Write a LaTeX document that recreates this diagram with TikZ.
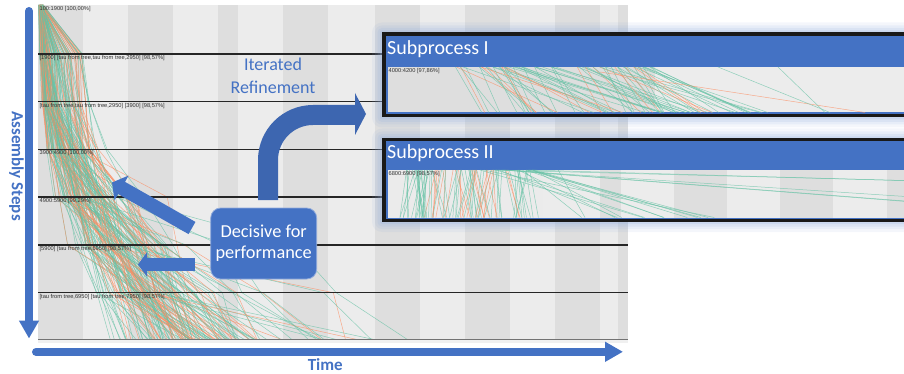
\documentclass[tikz,border=0pt]{standalone}
\usepackage{fontspec}
\setmainfont{Carlito}
\newfontfamily\labfont{Liberation Sans}
\usetikzlibrary{arrows.meta}
\definecolor{ofblue}{HTML}{4472C4}
\definecolor{arrblue}{HTML}{3D66B0}
\definecolor{tealc}{HTML}{66C2A5}
\definecolor{orngc}{HTML}{FC8D62}
\definecolor{bandd}{HTML}{DEDEDE}
\definecolor{bandl}{HTML}{ECECEC}
\definecolor{glowc}{HTML}{8FAADC}
\newcommand\myrand[1]{\pgfmathsetmacro#1{rnd}}
\tikzset{
 rowlab/.style={anchor=north west, inner sep=0.4pt, text=black!80, font=\labfont\fontsize{5.7}{5.7}\selectfont},
 trace/.style={line width=0.5pt, opacity=0.7},
 gridline/.style={draw=black!85, line width=1.1pt},
 subtitle/.style={anchor=base west, inner sep=0pt, text=white, font=\fontsize{20}{24}\selectfont},
 decbox/.style={fill=ofblue, draw=ofblue!60!white, line width=0.8pt, rounded corners=10pt, minimum width=106pt, minimum height=71pt, align=center, text=white, font=\fontsize{18.3}{21}\selectfont, inner sep=0pt},
 blockarrow/.style={draw=ofblue, line width=14pt, -{Triangle[width=28pt,length=11pt]}},
 hblockarrow/.style={draw=ofblue, line width=12.5pt, -{Triangle[width=24pt,length=9pt]}},
 axisarrow/.style={draw=ofblue, line width=8pt, line cap=round, -{Triangle[width=19pt,length=18pt]}},
 axislabel/.style={text=ofblue, font=\bfseries\fontsize{17}{20}\selectfont, inner sep=0pt},
 bluetext/.style={text=ofblue, align=center, font=\fontsize{18}{22.6}\selectfont, inner sep=0pt},
}
\begin{document}
\begin{tikzpicture}[x=1pt, y=-1pt]
\useasboundingbox (0,0) rectangle (904,374);
% chart background
\fill[bandl] (38,5) rectangle (628,340);
\foreach \a/\b in {38/83,128/173,218/238,283/328,375/420,465/510,555/600,618/628}
  \fill[bandd] (\a,5) rectangle (\b,340);
\fill[black!6] (38,340) rectangle (628,343);
% traces
\begin{scope}
\clip (38,5) rectangle (628,339);
\pgfmathsetseed{4711}
\foreach \i in {1,...,150}{
  \myrand\ra\myrand\rb\myrand\rc\myrand\rd\myrand\re\myrand\rf\myrand\rg\myrand\rh
  \myrand\za\myrand\zb\myrand\zc\myrand\zd\myrand\wa\myrand\wb\myrand\wc\myrand\rcol
  \pgfmathsetmacro\xa{38.5+5*\ra}
  \pgfmathsetmacro\xb{\xa+1+40*\rb^3}
  \pgfmathsetmacro\xc{\xb+1+12*\rc^2}
  \pgfmathsetmacro\xd{\xc+3+26*\rd^2}
  \pgfmathsetmacro\xe{\xd+6+42*\re^2+(\za>0.975)*80}
  \pgfmathsetmacro\xf{\xe+8+55*\rf^2+(\zb>0.965)*150*\wa}
  \pgfmathsetmacro\xg{\xf+10+70*\rg^2+(\zc>0.95)*250*\wb}
  \pgfmathsetmacro\xh{\xg+12+80*\rh^2+(\zd>0.94)*250*\wc}
  \pgfmathsetmacro\cc{\rcol<0.35}
  \ifdim\cc pt>0.5pt \def\col{orngc}\else\def\col{tealc}\fi
  \draw[trace, color=\col] (\xa,5) -- (\xb,54) -- (\xc,101.7) -- (\xd,149.3) -- (\xe,197) -- (\xf,245) -- (\xg,292.7) -- (\xh,340);
}
\end{scope}
% grid lines
\foreach \y in {54,101.7,149.3,197,245,292.7}
  \draw[gridline] (38,\y) -- (628,\y);
\draw[black!55, line width=0.8pt] (38,339.5) -- (628,339.5);
% row labels
\node[rowlab] (r0) at (39,5.5) {100:1900 [100,00\%]};
\node[rowlab] (r1) at (39,54.8) {[1900] [tau from tree,tau from tree,2950] [98,57\%]};
\node[rowlab] (r2) at (39,102.5) {[tau from tree,tau from tree,2950] [3900] [98,57\%]};
\node[rowlab] (r3) at (39,150.1) {3900:4900 [100,00\%]};
\node[rowlab] (r4) at (39,197.8) {4900:5900 [99,29\%]};
\node[rowlab] (r5) at (39,245.8) {[5900] [tau from tree,6950] [98,57\%]};
\node[rowlab] (r6) at (39,293.5) {[tau from tree,6950] [tau from tree,7950] [98,57\%]};
% axes
\coordinate (vtop) at (29,11);
\coordinate (vbot) at (29,338.5);
\draw[axisarrow] (vtop) -- (vbot);
\coordinate (hl) at (36,351.8);
\coordinate (hr) at (623,351.8);
\draw[axisarrow] (hl) -- (hr);
\node[axislabel, rotate=-90] (ylab) at (16.5,166) {Assembly Steps};
\node[axislabel, anchor=base] (xlab) at (325.3,370) {Time};
% decisive box and arrows
\node[decbox] (dec) at (263.7,243.5) {Decisive for\\performance};
\coordinate (d1s) at (192,228);
\coordinate (d1e) at (112,182.5);
\draw[blockarrow] (d1s) -- (d1e);
\coordinate (d2s) at (195,264.5);
\coordinate (d2e) at (138,264.5);
\draw[hblockarrow] (d2s) -- (d2e);
\fill[arrblue] (258,200) -- (258,160) .. controls (258,129.6) and (282.6,105) .. (313,105) -- (355,105) -- (355,93) -- (366,114) -- (355,135) -- (355,125) -- (313,125) .. controls (293.7,125) and (278,140.7) .. (278,160) -- (278,200) -- cycle;
\node[bluetext] (iter) at (273,76) {Iterated\\Refinement};
% subprocess glow
\foreach \g/\o in {10/0.10,7/0.12,4.5/0.15,2/0.2}{
  \fill[glowc, opacity=\o, rounded corners=\g pt] (382-\g,32.5-\g) rectangle (915,117.5+\g);
  \fill[glowc, opacity=\o, rounded corners=\g pt] (382-\g,138.5-\g) rectangle (915,222+\g);
}
% subprocess I
\fill[black!90] (382,32.5) rectangle (915,117.5);
\fill[ofblue] (385.5,36) rectangle (915,114.5);
\fill[bandl] (387.5,67) rectangle (915,112.5);
\fill[bandd] (387.5,67) rectangle (655,112.5);
\begin{scope}
\clip (387.5,67) rectangle (915,112.5);
\pgfmathsetseed{99}
\foreach \i in {1,...,80}{
  \myrand\ra\myrand\rb\myrand\rcol
  \pgfmathsetmacro\xt{455+200*\ra}
  \pgfmathsetmacro\xbb{\xt+20+140*\rb^2}
  \pgfmathsetmacro\cc{\rcol<0.3}
  \ifdim\cc pt>0.5pt \def\col{orngc}\else\def\col{tealc}\fi
  \draw[trace, color=\col] (\xt,67) -- (\xbb,112.5);
}
\draw[trace, color=orngc] (600,72) -- (865,112.5);
\draw[trace, color=tealc] (718,67) -- (830,112.5);
\draw[trace, color=tealc] (778,67) -- (825,112.5);
\draw[trace, color=tealc] (640,80) -- (760,112.5);
\end{scope}
\node[rowlab] (s1lab) at (388,67.5) {4000:4200 [97,86\%]};
\node[subtitle] (s1) at (387,55) {Subprocess I};
% subprocess II
\fill[black!90] (382,138.5) rectangle (915,222);
\fill[ofblue] (385.5,141.5) rectangle (915,219);
\fill[black!8] (387.5,170) rectangle (915,217.5);
\foreach \a/\b in {543/600,621/674,727/780,833/887}
  \fill[bandl] (\a,170) rectangle (\b,217.5);
\foreach \a/\b in {600/621,674/727,780/833,887/915}
  \fill[bandd] (\a,170) rectangle (\b,217.5);
\begin{scope}
\clip (387.5,170) rectangle (915,217.5);
\pgfmathsetseed{321}
\foreach \i in {1,...,90}{
  \myrand\ra\myrand\rb\myrand\rcol
  \pgfmathsetmacro\xt{405+125*\ra}
  \pgfmathsetmacro\xbb{\xt+30*(\rb-0.5)}
  \pgfmathsetmacro\cc{(\rcol<0.4)*(\xt>430)*(\xt<515)}
  \ifdim\cc pt>0.5pt \def\col{orngc}\else\def\col{tealc}\fi
  \draw[trace, color=\col] (\xt,170) -- (\xbb,217.5);
}
\foreach \i in {1,...,14}{
  \myrand\ra\myrand\rb
  \pgfmathsetmacro\xt{470+90*\ra}
  \pgfmathsetmacro\xbb{580+150*\rb}
  \draw[trace, color=tealc] (\xt,170) -- (\xbb,217.5);
}
\foreach \i in {1,...,5}{
  \myrand\ra\myrand\rb
  \pgfmathsetmacro\xt{480+60*\ra}
  \pgfmathsetmacro\ye{176+28*\rb}
  \draw[trace, color=tealc] (\xt,170) -- (910,\ye);
}
\end{scope}
\node[rowlab] (s2lab) at (388,170.5) {6800:6900 [98,57\%]};
\node[subtitle] (s2) at (387,158.3) {Subprocess II};
\end{tikzpicture}
\end{document}
